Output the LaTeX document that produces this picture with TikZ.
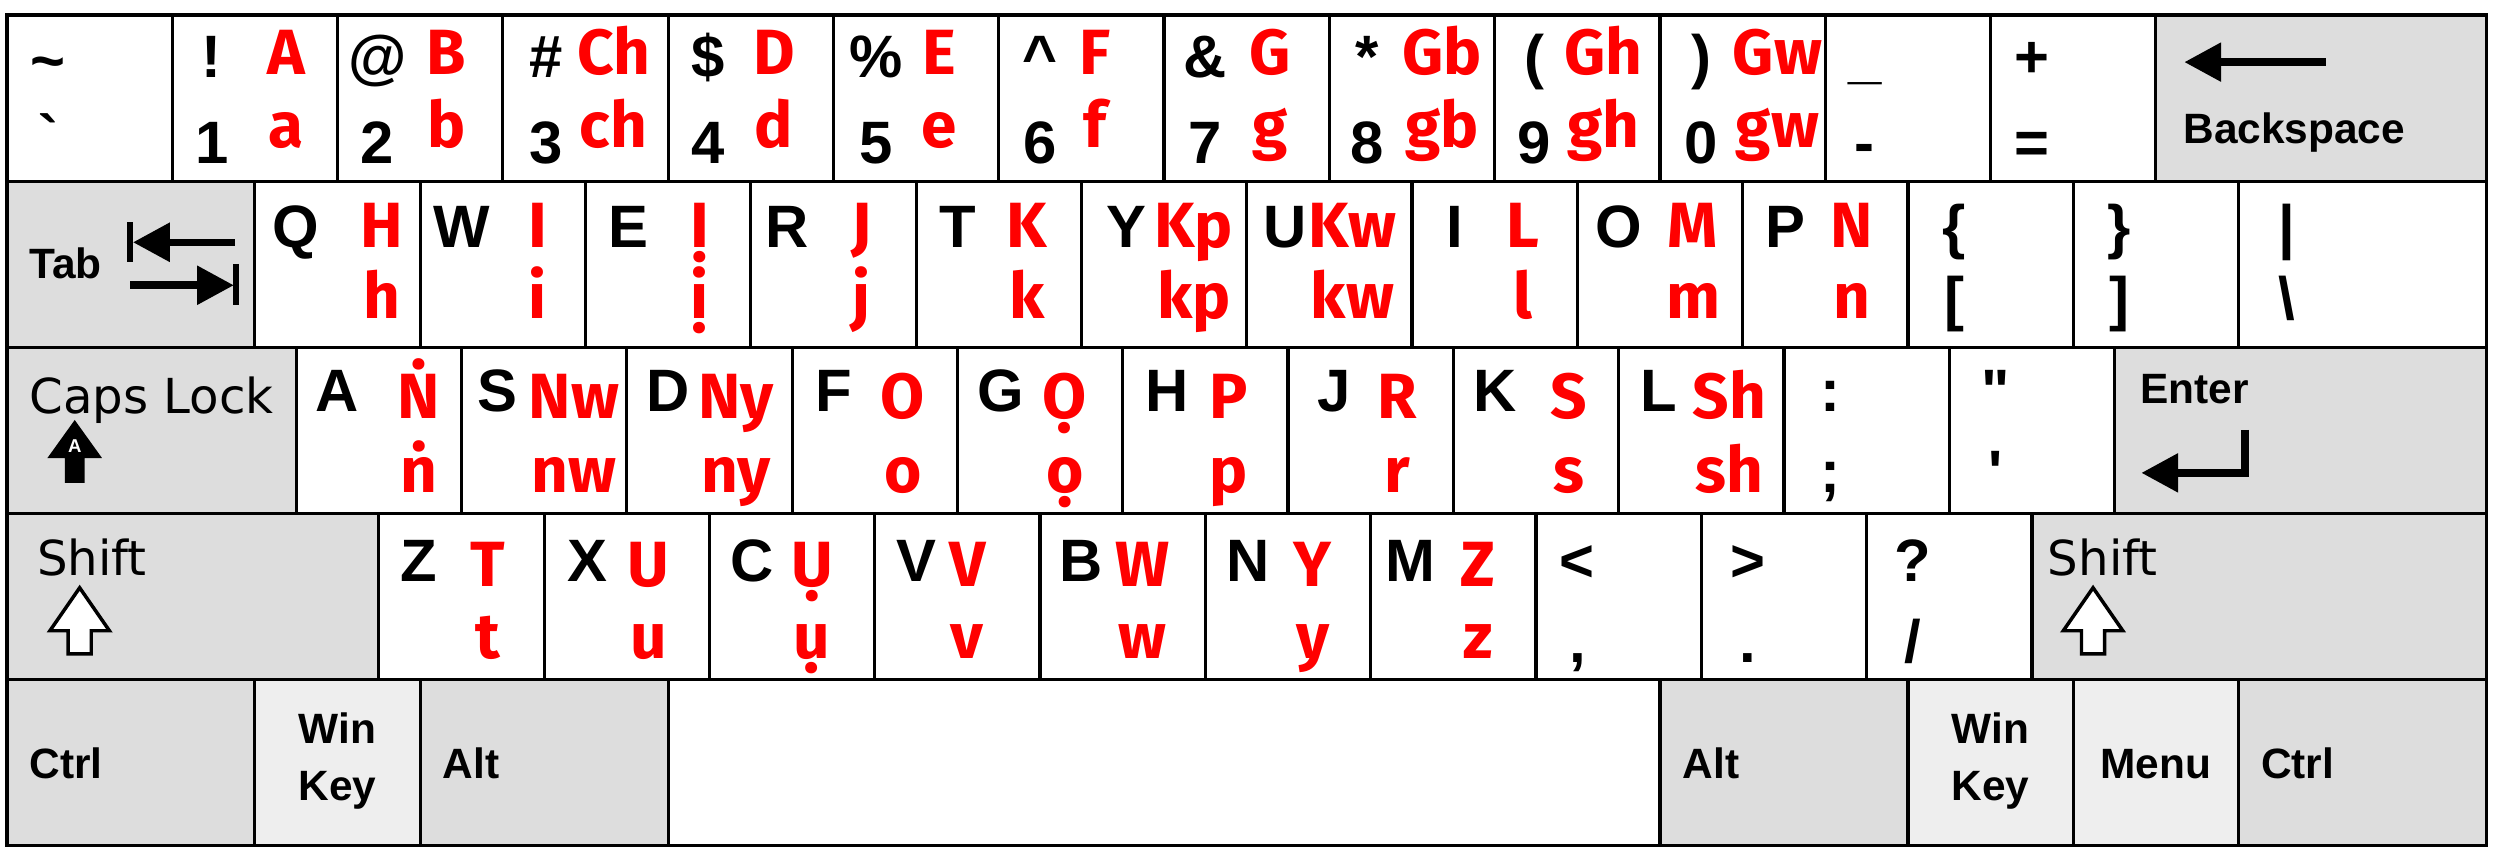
\documentclass[tikz,border=0pt]{standalone}
\usepackage{fontspec}
\setmainfont{Liberation Sans}
\newfontfamily\redfont{Fira Sans}
\newfontfamily\dvfont{DejaVu Sans}
\usetikzlibrary{calc}
\definecolor{modgray}{HTML}{DDDDDD}
\definecolor{wingray}{HTML}{EEEEEE}
\definecolor{legred}{HTML}{FF0000}
\tikzset{
 keybox/.style={draw=black, line width=0.55pt, fill=white, inner sep=0pt, outer sep=0pt, minimum height=1.005cm, anchor=north west},
 modkey/.style={keybox, fill=modgray},
 winkeybox/.style={keybox, fill=wingray},
 blk/.style={anchor=base, inner sep=0pt, font=\fontsize{10.3}{12}\selectfont\bfseries},
 redlbl/.style={anchor=base, inner sep=0pt, text=legred, font=\redfont\bfseries\fontsize{11}{13}\selectfont},
 modlbl/.style={anchor=base west, inner sep=0pt, font=\fontsize{7.3}{9}\selectfont\bfseries},
 modlblc/.style={anchor=base, inner sep=0pt, font=\fontsize{7.3}{9}\selectfont\bfseries},
 dvlbl/.style={anchor=base west, inner sep=0pt, font=\dvfont\fontsize{8.3}{10}\selectfont},
 iconline/.style={draw=black, line width=1.3pt},
 barline/.style={draw=black, line width=1.1pt},
 hollow/.style={draw=black, fill=white, line width=0.6pt, line join=miter},
}
\def\kx{0.042}
\newcommand\lkey[8]{%
 \node[keybox, minimum width=1cm] (#1) at (\kx+#2,\rowtop) {};
 \ifx\relax#3\relax\else\node[blk] (#1bu) at ([shift={(#7,-\bUy)}]#1.north west) {#3};\fi
 \ifx\relax#4\relax\else\node[blk] (#1bl) at ([shift={(#7,-\bLy)}]#1.north west) {#4};\fi
 \ifx\relax#5\relax\else\node[redlbl] (#1ru) at ([shift={(#8,-\rUy)}]#1.north west) {#5};\fi
 \ifx\relax#6\relax\else\node[redlbl] (#1rl) at ([shift={(#8,-\rLy)}]#1.north west) {#6};\fi
}
\begin{document}
\begin{tikzpicture}[x=1cm,y=1cm]
\useasboundingbox (0,0) rectangle (15.124,5.2026);
% ---------------- row 1
\def\rowtop{5.112}\def\bUy{0.38}\def\bLy{0.90}\def\rUy{0.36}\def\rLy{0.80}
\node[keybox, minimum width=1cm] (ktil) at (\kx,\rowtop) {};
\node[blk] (ktilu) at ([shift={(0.25,-0.40)}]ktil.north west) {\textasciitilde};
\node[blk] (ktill) at ([shift={(0.25,-0.86)}]ktil.north west) {\textasciigrave};
\lkey{k1}{1}{!}{1}{A}{a}{0.24}{0.69}
\lkey{k2}{2}{@}{2}{B}{b}{0.24}{0.66}
\lkey{k3}{3}{\#}{3}{Ch}{ch}{0.26}{0.67}
\lkey{k4}{4}{\$}{4}{D}{d}{0.24}{0.64}
\lkey{k5}{5}{\%}{5}{E}{e}{0.26}{0.64}
\lkey{k6}{6}{\textasciicircum}{6}{F}{f}{0.25}{0.58}
\lkey{k7}{7}{\&}{7}{G}{g}{0.25}{0.64}
\lkey{k8}{8}{*}{8}{Gb}{gb}{0.23}{0.68}
\lkey{k9}{9}{(}{9}{Gh}{gh}{0.24}{0.66}
\lkey{k0}{10}{)}{0}{Gw}{gw}{0.25}{0.71}
\lkey{kmin}{11}{\_}{-}{}{}{0.24}{0}
\lkey{keq}{12}{+}{=}{}{}{0.25}{0}
\node[modkey, minimum width=2cm] (kbs) at (\kx+13,\rowtop) {};
\node[modlbl] (kbst) at ([shift={(0.16,-0.78)}]kbs.north west) {Backspace};
\coordinate (bsTip) at ([shift={(0.175,-0.285)}]kbs.north west);
\coordinate (bsEnd) at ([shift={(1.03,-0.285)}]kbs.north west);
\fill (bsTip) -- ++(0.22,0.12) -- ++(0,-0.24) -- cycle;
\draw[iconline] ($(bsTip)+(0.2,0)$) -- (bsEnd);
% ---------------- row 2
\def\rowtop{4.107}\def\bUy{0.40}\def\bLy{0.84}\def\rUy{0.40}\def\rLy{0.83}
\node[modkey, minimum width=1.5cm] (ktab) at (\kx,\rowtop) {};
\node[modlbl] (ktabt) at ([shift={(0.13,-0.59)}]ktab.north west) {Tab};
\draw[barline] ([shift={(0.745,-0.25)}]ktab.north west) -- ([shift={(0.745,-0.49)}]ktab.north west);
\fill ([shift={(0.765,-0.37)}]ktab.north west) -- ++(0.22,0.12) -- ++(0,-0.24) -- cycle;
\draw[iconline] ([shift={(0.96,-0.37)}]ktab.north west) -- ([shift={(1.38,-0.37)}]ktab.north west);
\draw[iconline] ([shift={(0.745,-0.63)}]ktab.north west) -- ([shift={(1.17,-0.63)}]ktab.north west);
\fill ([shift={(1.37,-0.63)}]ktab.north west) -- ++(-0.22,0.12) -- ++(0,-0.24) -- cycle;
\draw[barline] ([shift={(1.385,-0.50)}]ktab.north west) -- ([shift={(1.385,-0.75)}]ktab.north west);
\lkey{kq}{1.5}{Q}{}{H}{h}{0.25}{0.77}
\lkey{kw}{2.5}{W}{}{I}{i}{0.25}{0.71}
\lkey{ke}{3.5}{E}{}{Ị}{ị}{0.26}{0.69}
\lkey{kr}{4.5}{R}{}{J}{j}{0.22}{0.67}
\lkey{kt}{5.5}{T}{}{K}{k}{0.25}{0.67}
\lkey{ky}{6.5}{Y}{}{Kp}{kp}{0.27}{0.68}
\lkey{ku}{7.5}{U}{}{Kw}{kw}{0.23}{0.64}
\lkey{ki}{8.5}{I}{}{L}{l}{0.26}{0.67}
\lkey{ko}{9.5}{O}{}{M}{m}{0.25}{0.70}
\lkey{kp}{10.5}{P}{}{N}{n}{0.26}{0.66}
\lkey{klb}{11.5}{\{}{[}{}{}{0.28}{0}
\lkey{krb}{12.5}{\}}{]}{}{}{0.28}{0}
\node[keybox, minimum width=1.5cm] (kbsl) at (\kx+13.5,\rowtop) {};
\node[blk] (kbslu) at ([shift={(0.29,-\bUy)}]kbsl.north west) {|};
\node[blk] (kbsll) at ([shift={(0.29,-\bLy)}]kbsl.north west) {\textbackslash};
% ---------------- row 3
\def\rowtop{3.102}\def\bUy{0.39}\def\bLy{0.88}\def\rUy{0.43}\def\rLy{0.88}
\node[modkey, minimum width=1.75cm] (kcaps) at (\kx,\rowtop) {};
\node[dvlbl] (kcapst) at ([shift={(0.13,-0.40)}]kcaps.north west) {Caps Lock};
\fill ([shift={(0.41,-0.44)}]kcaps.north west) -- ([shift={(0.575,-0.67)}]kcaps.north west)
  -- ([shift={(0.47,-0.67)}]kcaps.north west) -- ([shift={(0.47,-0.82)}]kcaps.north west)
  -- ([shift={(0.35,-0.82)}]kcaps.north west) -- ([shift={(0.35,-0.67)}]kcaps.north west)
  -- ([shift={(0.245,-0.67)}]kcaps.north west) -- cycle;
\node[inner sep=0pt, text=white, font=\fontsize{3.2}{4}\selectfont\bfseries] (kcapsa) at ([shift={(0.41,-0.595)}]kcaps.north west) {A};
\lkey{ka}{1.75}{A}{}{Ṅ}{ṅ}{0.25}{0.74}
\lkey{ks}{2.75}{S}{}{Nw}{nw}{0.22}{0.68}
\lkey{kd}{3.75}{D}{}{Ny}{ny}{0.25}{0.66}
\lkey{kf}{4.75}{F}{}{O}{o}{0.25}{0.67}
\lkey{kg}{5.75}{G}{}{Ọ}{ọ}{0.26}{0.65}
\lkey{kh}{6.75}{H}{}{P}{p}{0.27}{0.64}
\lkey{kj}{7.75}{J}{}{R}{r}{0.28}{0.66}
\lkey{kk}{8.75}{K}{}{S}{s}{0.25}{0.70}
\lkey{kl}{9.75}{L}{}{Sh}{sh}{0.24}{0.67}
\lkey{ksc}{10.75}{:}{;}{}{}{0.28}{0}
\lkey{kqt}{11.75}{\textquotedbl}{\textquotesingle}{}{}{0.28}{0}
\node[modkey, minimum width=2.25cm] (kent) at (\kx+12.75,\rowtop) {};
\node[modlbl] (kentt) at ([shift={(0.15,-0.34)}]kent.north west) {Enter};
\draw[iconline, line join=miter] ([shift={(0.79,-0.50)}]kent.north west) -- ([shift={(0.79,-0.76)}]kent.north west) -- ([shift={(0.37,-0.76)}]kent.north west);
\fill ([shift={(0.165,-0.76)}]kent.north west) -- ++(0.22,0.12) -- ++(0,-0.24) -- cycle;
% ---------------- row 4
\def\rowtop{2.097}\def\bUy{0.41}\def\bLy{0.90}\def\rUy{0.44}\def\rLy{0.88}
\node[modkey, minimum width=2.25cm] (klsh) at (\kx,\rowtop) {};
\node[dvlbl] (klsht) at ([shift={(0.175,-0.375)}]klsh.north west) {Shift};
\draw[hollow] ([shift={(0.44,-0.45)}]klsh.north west) -- ([shift={(0.62,-0.71)}]klsh.north west)
  -- ([shift={(0.51,-0.71)}]klsh.north west) -- ([shift={(0.51,-0.85)}]klsh.north west)
  -- ([shift={(0.37,-0.85)}]klsh.north west) -- ([shift={(0.37,-0.71)}]klsh.north west)
  -- ([shift={(0.26,-0.71)}]klsh.north west) -- cycle;
\lkey{kz}{2.25}{Z}{}{T}{t}{0.24}{0.66}
\lkey{kkx}{3.25}{X}{}{U}{u}{0.26}{0.63}
\lkey{kc}{4.25}{C}{}{Ụ}{ụ}{0.26}{0.62}
\lkey{kv}{5.25}{V}{}{V}{v}{0.25}{0.56}
\lkey{kb}{6.25}{B}{}{W}{w}{0.25}{0.62}
\lkey{kn}{7.25}{N}{}{Y}{y}{0.26}{0.65}
\lkey{km}{8.25}{M}{}{Z}{z}{0.24}{0.65}
\lkey{klt}{9.25}{<}{,}{}{}{0.25}{0}
\lkey{kgt}{10.25}{>}{.}{}{}{0.28}{0}
\lkey{kqm}{11.25}{?}{/}{}{}{0.28}{0}
\node[modkey, minimum width=2.75cm] (krsh) at (\kx+12.25,\rowtop) {};
\node[dvlbl] (krsht) at ([shift={(0.09,-0.375)}]krsh.north west) {Shift};
\draw[hollow] ([shift={(0.37,-0.45)}]krsh.north west) -- ([shift={(0.55,-0.71)}]krsh.north west)
  -- ([shift={(0.44,-0.71)}]krsh.north west) -- ([shift={(0.44,-0.85)}]krsh.north west)
  -- ([shift={(0.30,-0.85)}]krsh.north west) -- ([shift={(0.30,-0.71)}]krsh.north west)
  -- ([shift={(0.19,-0.71)}]krsh.north west) -- cycle;
% ---------------- row 5
\def\rowtop{1.092}
\node[modkey, minimum width=1.5cm] (klctrl) at (\kx,\rowtop) {};
\node[modlbl] (klctrlt) at ([shift={(0.13,-0.60)}]klctrl.north west) {Ctrl};
\node[winkeybox, minimum width=1cm] (klwin) at (\kx+1.5,\rowtop) {};
\node[modlblc] (klwint) at ([shift={(0.5,-0.39)}]klwin.north west) {Win};
\node[modlblc] (klwink) at ([shift={(0.5,-0.73)}]klwin.north west) {Key};
\node[modkey, minimum width=1.5cm] (klalt) at (\kx+2.5,\rowtop) {};
\node[modlbl] (klaltt) at ([shift={(0.13,-0.60)}]klalt.north west) {Alt};
\node[keybox, minimum width=6cm] (kspace) at (\kx+4,\rowtop) {};
\node[modkey, minimum width=1.5cm] (kralt) at (\kx+10,\rowtop) {};
\node[modlbl] (kraltt) at ([shift={(0.13,-0.60)}]kralt.north west) {Alt};
\node[winkeybox, minimum width=1cm] (krwin) at (\kx+11.5,\rowtop) {};
\node[modlblc] (krwint) at ([shift={(0.5,-0.39)}]krwin.north west) {Win};
\node[modlblc] (krwink) at ([shift={(0.5,-0.73)}]krwin.north west) {Key};
\node[winkeybox, minimum width=1cm] (kmenu) at (\kx+12.5,\rowtop) {};
\node[modlblc] (kmenut) at ([shift={(0.5,-0.60)}]kmenu.north west) {Menu};
\node[modkey, minimum width=1.5cm] (krctrl) at (\kx+13.5,\rowtop) {};
\node[modlbl] (krctrlt) at ([shift={(0.13,-0.60)}]krctrl.north west) {Ctrl};
\end{tikzpicture}
\end{document}
